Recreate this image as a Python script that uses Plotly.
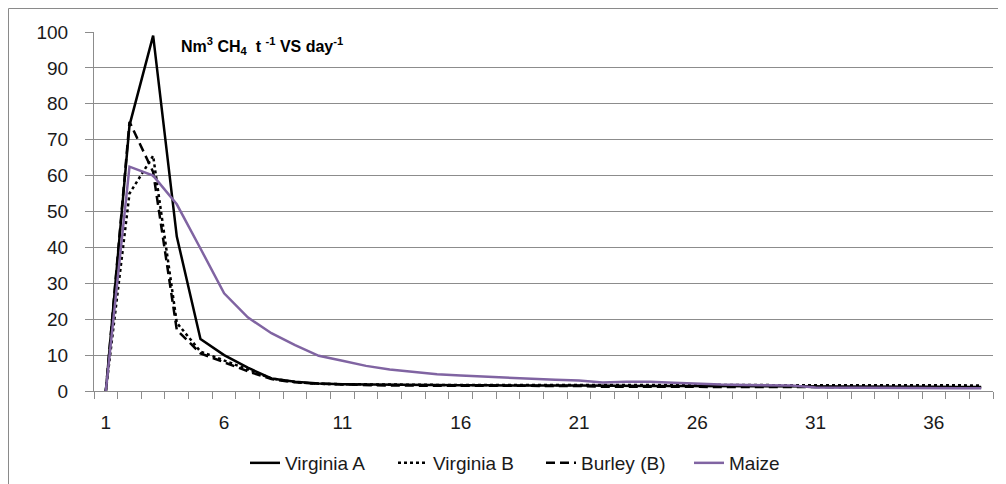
import plotly.graph_objects as go

days = list(range(1, 39))

virginia_a = [0, 74, 99, 43, 14.5, 10, 6.5, 3.5, 2.6, 2.1, 1.9, 1.8, 1.7, 1.7, 1.6, 1.6, 1.6, 1.5, 1.5, 1.5,
              1.5, 1.4, 1.4, 1.4, 1.4, 1.4, 1.3, 1.3, 1.3, 1.3, 1.3, 1.3, 1.2, 1.2, 1.2, 1.2, 1.1, 1.1]
virginia_b = [0, 55, 65.5, 19, 11, 8.5, 6, 3.5, 2.5, 2.0, 1.9, 1.8, 1.7, 1.7, 1.7, 1.7, 1.7, 1.7, 1.7, 1.8,
              1.8, 1.6, 1.6, 1.6, 1.6, 1.6, 1.6, 1.6, 1.7, 1.8, 1.8, 1.8, 1.8, 1.8, 1.8, 1.7, 1.6, 1.5]
burley_b = [0, 75, 61, 17, 10.5, 8, 5.5, 3.3, 2.4, 2.0, 1.8, 1.7, 1.5, 1.5, 1.5, 1.5, 1.4, 1.4, 1.4, 1.4,
            1.4, 1.2, 1.2, 1.2, 1.2, 1.2, 1.2, 1.2, 1.2, 1.2, 1.2, 1.1, 1.1, 1.1, 1.1, 1.0, 1.0, 1.0]
maize = [0, 62.5, 60, 52, 39.7, 27.2, 20.5, 16.1, 12.8, 9.8, 8.4, 7.0, 6.0, 5.3, 4.7, 4.3, 4.0, 3.7, 3.2, 3.1,
         2.9, 2.4, 2.6, 2.6, 2.3, 2.0, 1.8, 1.7, 1.5, 1.5, 1.0, 1.0, 1.0, 1.0, 0.9, 0.8, 0.8, 0.75]

x_tick_vals = [1, 6, 11, 16, 21, 26, 31, 36]
x_tick_text = ["1", "6", "11", "16", "21", "26", "31", "36"]
boundaries = [d - 0.5 for d in days] + [days[-1] + 0.5]

FONT = "Liberation Sans"
GRID = "#8c8c8c"
TXT = "#1a1a1a"

fig = go.Figure()
fig.add_trace(go.Scatter(x=days, y=virginia_a, name="Virginia A", mode="lines",
                         line=dict(color="black", width=2.5)))
fig.add_trace(go.Scatter(x=days, y=virginia_b, name="Virginia B", mode="lines",
                         line=dict(color="black", width=2.5, dash="dot")))
fig.add_trace(go.Scatter(x=days, y=burley_b, name="Burley (B)", mode="lines",
                         line=dict(color="black", width=2.5, dash="9px,5px")))
fig.add_trace(go.Scatter(x=days, y=maize, name="Maize", mode="lines",
                         line=dict(color="#8064A2", width=2.5)))

# the page body adds an 8px offset, so the figure is sized to fit the window
OFF = 8
W, H = 998, 476
L, R, T, B = 86, 13, 24, 93
pw, ph = W - L - R, H - T - B

def px(xr):
    return (xr - OFF - L) / pw

def py(yr):
    return (H - B - (yr - OFF)) / ph

fig.update_layout(
    width=W, height=H,
    margin=dict(l=L, r=R, t=T, b=B, autoexpand=False),
    paper_bgcolor="white", plot_bgcolor="white",
    font=dict(family=FONT, size=19, color=TXT),
    showlegend=True,
    legend=dict(orientation="h", x=px(245), xanchor="left", y=py(463), yanchor="middle",
                font=dict(family=FONT, size=19, color=TXT), itemwidth=30,
                entrywidth=103, entrywidthmode="pixels",
                bgcolor="rgba(0,0,0,0)"),
    xaxis=dict(range=[0.5, 38.5], tickmode="array", tickvals=x_tick_vals, ticktext=x_tick_text,
               showgrid=False, zeroline=False, showline=True, linecolor=GRID, linewidth=1,
               automargin=False,
               ticks="outside", ticklen=7, tickcolor="rgba(0,0,0,0)", ticklabelstandoff=7,
               minor=dict(tickmode="array", tickvals=boundaries, ticks="outside", ticklen=7,
                          tickcolor=GRID, tickwidth=1, showgrid=False),
               tickfont=dict(family=FONT, size=19, color=TXT)),
    yaxis=dict(range=[0, 100], dtick=10, showgrid=True, gridcolor=GRID, gridwidth=1,
               zeroline=False, showline=True, linecolor=GRID, linewidth=1, automargin=False,
               ticks="outside", ticklen=8, tickcolor=GRID, ticklabelstandoff=13,
               tickfont=dict(family=FONT, size=19, color=TXT)),
    annotations=[dict(xref="paper", yref="paper", x=px(179), y=py(46), xanchor="left", yanchor="middle",
                      text="<b>Nm<sup>3</sup> CH<sub>4</sub>  t <sup>-1</sup> VS day<sup>-1</sup></b>",
                      showarrow=False, font=dict(family=FONT, size=16, color="black"))],
    shapes=[
        dict(type="line", xref="paper", yref="paper", x0=px(8.5), x1=px(1006), y0=py(8.5), y1=py(8.5),
             line=dict(color="#8a8a8a", width=1), layer="below"),
        dict(type="line", xref="paper", yref="paper", x0=px(8.5), x1=px(8.5), y0=py(8.5), y1=py(484),
             line=dict(color="#8a8a8a", width=1), layer="below"),
    ],
)

fig.write_html("out.html")
